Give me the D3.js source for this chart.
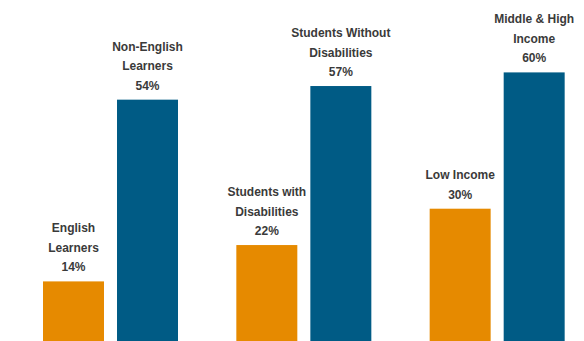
<!DOCTYPE html>
<html>
<head>
<meta charset="utf-8">
<script src="https://cdn.jsdelivr.net/npm/d3@7"></script>
<style>
  html, body { margin: 0; padding: 0; background: #fff; }
  svg { display: block; }
</style>
</head>
<body>
<div id="chart"></div>
<script>
// Student groups, shown as pairs
const groups = ["English Learners", "Disabilities", "Income"];
const focalLabels = [["English", "Learners"], ["Students with", "Disabilities"], ["Low Income"]];
const focalValues = [14, 22, 30];
const peerLabels = [["Non-English", "Learners"], ["Students Without", "Disabilities"], ["Middle & High", "Income"]];
const peerValues = [54, 57, 60];
const title = "Percentage of Students Meeting or Exceeding Standards, by Student Group (2018-19)";

const W = 584, H = 341;
const svg = d3.select("#chart").append("svg").attr("width", W).attr("height", H);

const x0 = d3.scaleBand().domain(groups).range([16, 596]).paddingInner(0.0).paddingOuter(0);
const x1 = d3.scaleBand().domain(["focal", "peer"]).range([27, 162]).paddingInner(0.176);
const y = d3.scaleLinear().domain([0, 60]).range([345, 72.4]);

const colors = { focal: "#E68A00", peer: "#005B85" };

// title line, mostly above the visible area
svg.append("text")
  .attr("x", 12).attr("y", -3)
  .attr("font-family", "Liberation Sans, Arial, sans-serif")
  .attr("font-size", 13).attr("font-weight", "bold").attr("fill", "#555")
  .text(title);

const rows = groups.map((g, i) => [
  { g, key: "focal", v: focalValues[i], lines: focalLabels[i] },
  { g, key: "peer", v: peerValues[i], lines: peerLabels[i] }
]).flat();

const bar = svg.append("g").selectAll("g").data(rows).join("g")
  .attr("transform", d => `translate(${x0(d.g) + x1(d.key)},0)`);

bar.append("rect")
  .attr("x", 0).attr("width", x1.bandwidth())
  .attr("y", d => y(d.v)).attr("height", d => y(0) - y(d.v))
  .attr("fill", d => colors[d.key]);

const lineH = 19.5;
bar.each(function (d) {
  const g = d3.select(this);
  const all = d.lines.concat([d.v + "%"]);
  const n = all.length;
  g.append("text")
    .attr("text-anchor", "middle")
    .attr("font-family", "Liberation Sans, Arial, sans-serif")
    .attr("font-size", 12).attr("font-weight", "bold").attr("fill", "#3a3a3a")
    .selectAll("tspan").data(all).join("tspan")
    .attr("x", x1.bandwidth() / 2)
    .attr("y", (t, j) => y(d.v) - 10 - (n - 1 - j) * lineH)
    .text(t => t);
});
</script>
</body>
</html>
